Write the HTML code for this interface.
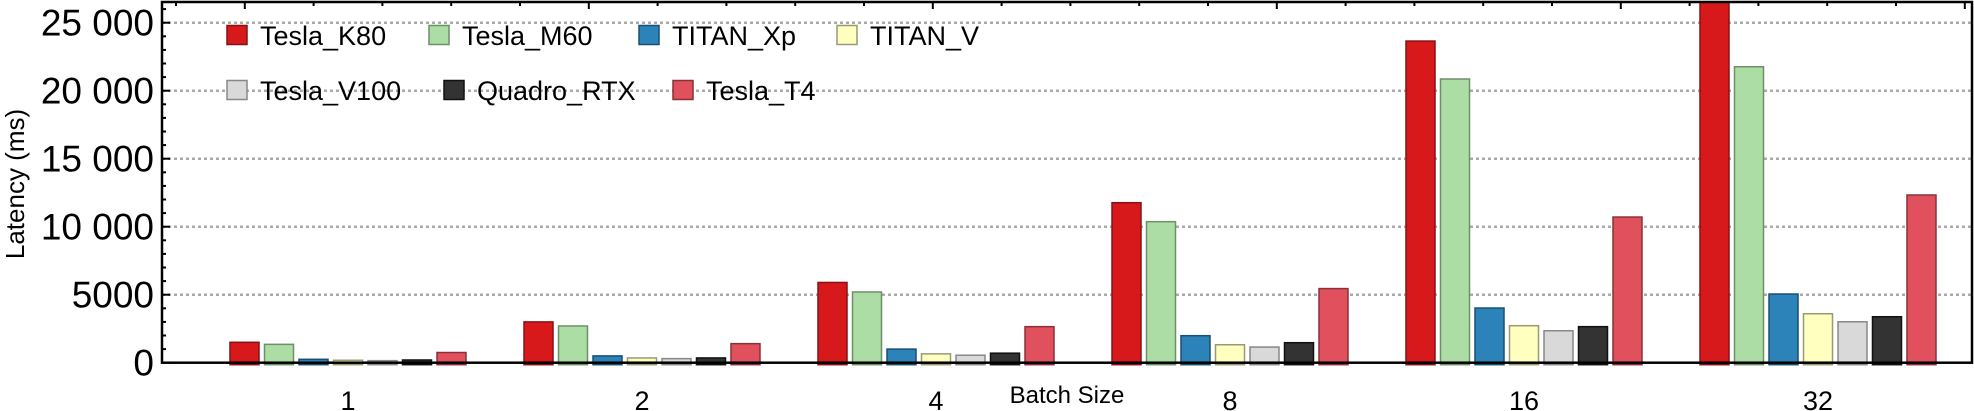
<!DOCTYPE html>
<html><head><meta charset="utf-8"><style>
html,body{margin:0;padding:0;background:#fff;}
svg{display:block;font-family:"Liberation Sans",sans-serif;}
</style></head><body>
<svg id="s" width="1974" height="411" viewBox="0 0 1974 411" xmlns="http://www.w3.org/2000/svg"></svg>
<script>
const s=document.getElementById('s');
let h='';
const L=162,R=1972,T=2,B=362.7,k=68/5000;
const y=v=>B-v*k;
for(let v=5000;v<=25000;v+=5000){h+=`<line x1="${L}" x2="${R}" y1="${y(v)}" y2="${y(v)}" stroke="#aaa" stroke-width="2.5" stroke-dasharray="3,3"/>`;}
const cols=[["#d7191c","#8a1015"],["#abdda4","#6f8f6a"],["#2b83ba","#1b4f70"],["#ffffbf","#999977"],["#d9d9d9","#888"],["#333333","#111"],["#e0515d","#8a3039"]];
const data=[[1500,1350,250,180,150,200,750],[3000,2700,500,350,300,350,1400],[5900,5200,1000,650,550,700,2650],[11765,10370,1985,1320,1150,1470,5450],[23650,20860,4020,2720,2350,2650,10710],[27000,21760,5050,3600,3010,3380,12330]];
const labs=["1","2","4","8","16","32"];
data.forEach((g,gi)=>{const c=348+gi*294;g.forEach((v,i)=>{const x=c-3*34.5-14.5+i*34.5;const top=Math.max(y(v),T);
h+=`<rect x="${x}" y="${top}" width="29" height="${B-top+2}" fill="${cols[i][0]}" stroke="${cols[i][1]}" stroke-width="1.5"/>`;});
h+=`<text x="${c}" y="410" font-size="27" text-anchor="middle">${labs[gi]}</text>`;});
h+=`<rect x="${L}" y="${T}" width="${R-L}" height="${B-T}" fill="none" stroke="#000" stroke-width="2.5"/>`;
for(let v=0;v<=26000;v+=1000){const yy=y(v);const len=v%5000==0?8:4;h+=`<line x1="${L}" x2="${L+len}" y1="${yy}" y2="${yy}" stroke="#000" stroke-width="2"/>`;}
const yl=["0","5000","10 000","15 000","20 000","25 000"];
yl.forEach((t,i)=>{h+=`<text x="154" y="${y(i*5000)+13}" font-size="37" text-anchor="end">${t}</text>`;});
for(let i=0;i<27;i++){const x=L+14+i*68.8;if(x>R-5)break;h+=`<line x1="${x}" x2="${x}" y1="${T}" y2="${T+(i%5==1?7:4)}" stroke="#000" stroke-width="2"/>`;}
h+=`<text transform="translate(24,184) rotate(-90)" font-size="26" text-anchor="middle">Latency (ms)</text>`;
h+=`<text x="1067" y="403" font-size="24" text-anchor="middle">Batch Size</text>`;
const leg=[[227,35,0,"Tesla_K80"],[429,35,1,"Tesla_M60"],[639,35,2,"TITAN_Xp"],[837,35,3,"TITAN_V"],[227,90,4,"Tesla_V100"],[444,90,5,"Quadro_RTX"],[673,90,6,"Tesla_T4"]];
leg.forEach(([x,cy,i,t])=>{h+=`<rect x="${x}" y="${cy-9.5}" width="20" height="19" fill="${cols[i][0]}" stroke="${cols[i][1]}" stroke-width="1.5"/><text x="${x+33}" y="${cy+10}" font-size="27">${t}</text>`;});
s.innerHTML=h;
</script>
</body></html>
